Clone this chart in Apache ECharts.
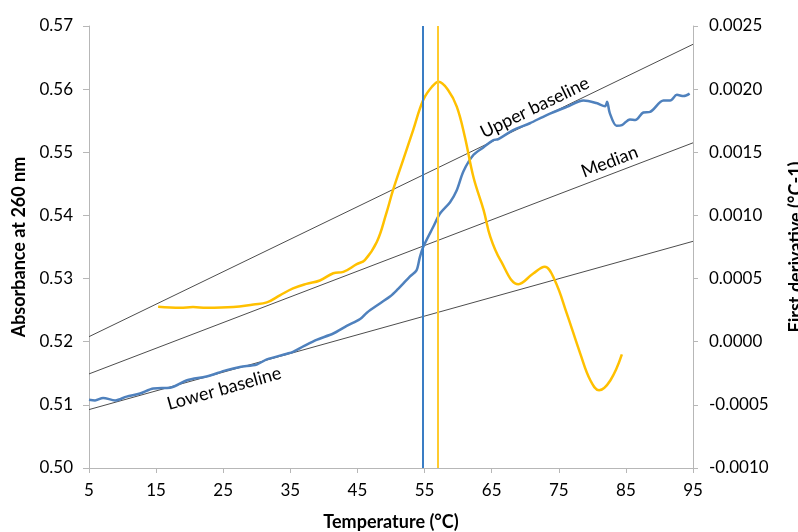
<!DOCTYPE html>
<html>
<head>
<meta charset="utf-8">
<script src="https://cdn.jsdelivr.net/npm/echarts@6/dist/echarts.min.js"></script>
<style>
  html, body { margin: 0; padding: 0; background: #fff; }
  #chart { width: 798px; height: 532px; }
</style>
</head>
<body>
<div id="chart"></div>
<script>
// Melting curve: absorbance at 260 nm vs temperature, with its first derivative
const absTemp = [5.0, 5.9, 7.1, 8.9, 10.6, 12.6, 14.6, 17.1, 19.6, 22.5, 25.5, 27.5, 30.0, 31.5,
  34.5, 35.4, 37.0, 38.9, 41.4, 43.4, 45.4, 46.4, 48.4, 49.9, 50.9, 52.8, 53.8, 54.3, 54.8,
  56.3, 57.3, 58.8, 59.8, 60.8, 62.3, 63.8, 65.2, 66.0, 68.2, 70.7, 73.2, 76.2, 78.7, 80.6,
  81.9, 82.2, 82.6, 83.6, 84.4, 85.6, 86.4, 87.6, 88.6, 90.6, 91.6, 92.6, 93.6, 94.5];
const absorbance = [0.5108, 0.5107, 0.5111, 0.5107, 0.5113, 0.5118, 0.5126, 0.5127, 0.5139, 0.5145,
  0.5155, 0.5160, 0.5164, 0.5172, 0.5181, 0.5184, 0.5193, 0.5203, 0.5213, 0.5225, 0.5236, 0.5246,
  0.5261, 0.5272, 0.5282, 0.5303, 0.5313, 0.5334, 0.5350, 0.5382, 0.5403, 0.5421, 0.5440, 0.5470,
  0.5496, 0.5508, 0.5519, 0.5521, 0.5535, 0.5546, 0.5559, 0.5572, 0.5582, 0.5578, 0.5573, 0.5580,
  0.5562, 0.5542, 0.5543, 0.5552, 0.5551, 0.5563, 0.5564, 0.5582, 0.5582, 0.5591, 0.5589, 0.5593];

const derivTemp = [15.3, 18.6, 20.5, 22.5, 26.5, 29.5, 31.5, 33.5, 35.4, 37.4, 39.4, 41.4, 42.9,
  44.9, 46.1, 47.9, 49.3, 50.3, 51.8, 53.3, 54.8, 56.1, 57.1, 58.5, 59.8, 61.0, 62.3, 63.8, 64.8,
  66.3, 69.0, 71.2, 72.9, 74.4, 76.2, 78.2, 79.7, 81.0, 82.7, 84.4];
const derivative = [0.000276, 0.000268, 0.000274, 0.000268, 0.000274, 0.000295, 0.000311, 0.000369,
  0.000422, 0.000458, 0.000485, 0.000542, 0.000553, 0.000614, 0.000646, 0.000791, 0.001016,
  0.001200, 0.001438, 0.001676, 0.001914, 0.002019, 0.002059, 0.001993, 0.001861, 0.001623,
  0.001300, 0.001042, 0.000830, 0.000646, 0.000456, 0.000540, 0.000593, 0.000487, 0.000223,
  -0.000094, -0.000305, -0.000384, -0.000305, -0.000101];

// Fitted baselines (two end points each) and their median
const baselineTemp = [5, 95];
const upperBaseline = [0.5208, 0.5671];
const lowerBaseline = [0.50925, 0.5359];
const medianLine = [0.5149, 0.5515];

// Melting temperatures: median crossing and derivative maximum
const tmMedian = 54.8;
const tmDerivative = 57.0;

// Axis tick labels
const tempTicks = [5, 15, 25, 35, 45, 55, 65, 75, 85, 95];
const absTicks = ['0.50', '0.51', '0.52', '0.53', '0.54', '0.55', '0.56', '0.57'];
const derivTicks = ['-0.0010', '-0.0005', '0.0000', '0.0005', '0.0010', '0.0015', '0.0020', '0.0025'];

const zip = (xs, ys) => xs.map((x, i) => [x, ys[i]]);
const lineAt = (ys, t) => ys[0] + (ys[1] - ys[0]) * (t - baselineTemp[0]) / (baselineTemp[1] - baselineTemp[0]);

const FONT = 'Lato';
const axisGrey = '#b7b7b7';
const titleStyle = { fontFamily: FONT, fontWeight: 'bold', fontSize: 18, color: '#000' };
const tickStyle = { fontFamily: FONT, fontSize: 17, color: '#000' };

function baselineSeries(name, ys, labelT, rotate, above) {
  return {
    name: name, type: 'line', xAxisIndex: 0, yAxisIndex: 0,
    data: zip(baselineTemp, ys), symbol: 'none', silent: true,
    lineStyle: { color: '#4d4d4d', width: 1 }, z: 3,
    markPoint: {
      symbol: 'circle', symbolSize: 0, silent: true,
      data: [{ coord: [labelT, lineAt(ys, labelT)] }],
      label: {
        show: true, formatter: name, position: 'inside',
        rotate: rotate, align: 'center',
        verticalAlign: above ? 'bottom' : 'top',
        padding: above ? [0, 0, 3, 0] : [7, 0, 0, 0],
        color: '#000', fontFamily: FONT, fontSize: 18
      }
    }
  };
}

const chart = echarts.init(document.getElementById('chart'), null, { renderer: 'canvas' });
chart.setOption({
  animation: false,
  backgroundColor: '#fff',
  grid: { left: 89, right: 105, top: 26, bottom: 64, containLabel: false, outerBoundsMode: 'none' },
  xAxis: {
    type: 'value', min: tempTicks[0], max: tempTicks[tempTicks.length - 1], interval: 10,
    name: 'Temperature (°C)', nameLocation: 'middle', nameGap: 45,
    nameTextStyle: titleStyle,
    axisLine: { onZero: false, lineStyle: { color: axisGrey, width: 1 } },
    axisTick: { show: true, length: 5, lineStyle: { color: axisGrey } },
    axisLabel: Object.assign({ margin: 14,
      formatter: v => String(tempTicks[tempTicks.indexOf(v)]) }, tickStyle),
    splitLine: { show: false }
  },
  yAxis: [{
    type: 'value', min: 0.50, max: 0.57, interval: 0.01, position: 'left',
    name: 'Absorbance at 260 nm', nameLocation: 'middle', nameGap: 54,
    nameTextStyle: titleStyle,
    axisLine: { show: true, onZero: false, lineStyle: { color: axisGrey, width: 1 } },
    axisTick: { show: true, length: 6, lineStyle: { color: axisGrey } },
    axisLabel: Object.assign({ margin: 16,
      formatter: v => absTicks[Math.round((v - 0.50) / 0.01)] }, tickStyle),
    splitLine: { show: false }
  }, {
    type: 'value', min: -0.0010, max: 0.0025, interval: 0.0005, position: 'right',
    name: 'First derivative (°C-1)', nameLocation: 'middle', nameGap: 94,
    nameTextStyle: titleStyle,
    axisLine: { show: true, onZero: false, lineStyle: { color: axisGrey, width: 1 } },
    axisTick: { show: true, length: 5, lineStyle: { color: axisGrey } },
    axisLabel: Object.assign({ margin: 16,
      formatter: v => derivTicks[Math.round((v + 0.0010) / 0.0005)] }, tickStyle),
    splitLine: { show: false }
  }],
  series: [
    baselineSeries('Upper baseline', upperBaseline, 72.2, 25.8, true),
    baselineSeries('Median', medianLine, 83.2, 20.8, true),
    baselineSeries('Lower baseline', lowerBaseline, 24.5, 15.6, false),
    {
      name: 'Absorbance', type: 'line', xAxisIndex: 0, yAxisIndex: 0,
      data: zip(absTemp, absorbance), symbol: 'none', smooth: 0.3, z: 4,
      lineStyle: { color: '#4f81bd', width: 2.5 },
      markLine: {
        symbol: ['none', 'none'], silent: true, label: { show: false },
        lineStyle: { color: '#3a7dc4', width: 2, type: 'solid' },
        data: [{ xAxis: tmMedian }]
      }
    },
    {
      name: 'First derivative', type: 'line', xAxisIndex: 0, yAxisIndex: 1,
      data: zip(derivTemp, derivative), symbol: 'none', smooth: 0.4, z: 4,
      lineStyle: { color: '#ffc000', width: 2.5 },
      markLine: {
        symbol: ['none', 'none'], silent: true, label: { show: false },
        lineStyle: { color: '#ffcb2f', width: 2, type: 'solid' },
        data: [{ xAxis: tmDerivative }]
      }
    }
  ]
});
</script>
</body>
</html>
